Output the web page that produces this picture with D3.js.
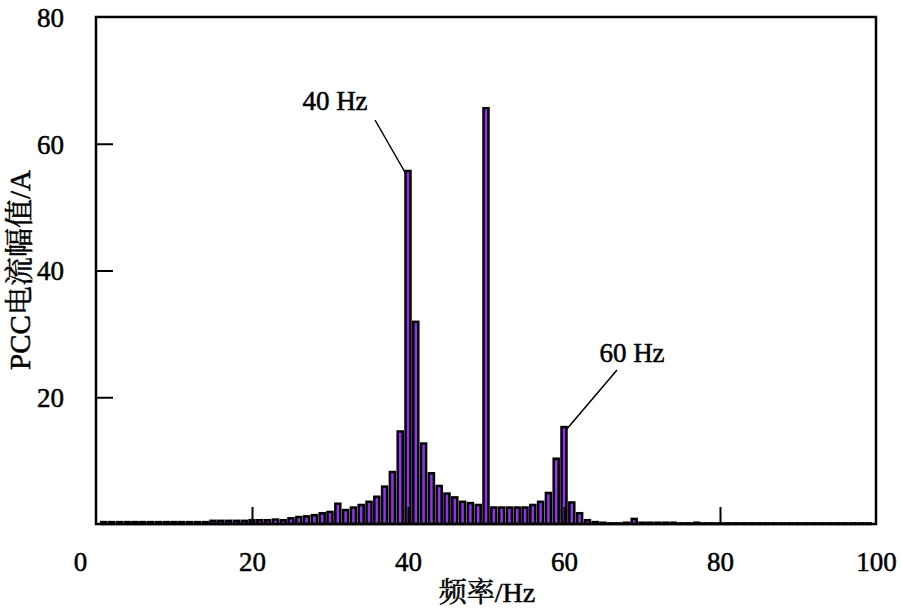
<!DOCTYPE html>
<html><head><meta charset="utf-8">
<script src="https://cdn.jsdelivr.net/npm/d3@7"></script>
<style>body{margin:0;background:#fff} text{stroke:black;stroke-width:0.5px}</style>
</head><body>
<svg id="chart" width="901" height="608"></svg>
<script>
// frequency (Hz) of each bar and its amplitude (A)
var freqs = d3.range(1, 100)
var amps = [
  0.3,0.3,0.3,0.3,0.3,0.3,0.3,0.3,0.3,0.3,   // 1-10
  0.3,0.3,0.3,0.3,0.5,0.5,0.5,0.5,0.5,0.6,   // 11-20
  0.6,0.6,0.7,0.6,0.9,1.1,1.2,1.4,1.7,1.9,   // 21-30
  3.2,2.2,2.6,3.0,3.5,4.3,5.9,8.2,14.6,55.7, // 31-40
  31.9,12.7,8.0,6.0,4.8,4.2,3.5,3.3,3.0,65.6, // 41-50
  2.6,2.6,2.6,2.6,2.6,3.0,3.5,4.9,10.3,15.3, // 51-60
  3.4,1.7,0.6,0.3,0.2,0.1,0.1,0.2,0.8,0.2,   // 61-70
  0.2,0.2,0.2,0.2,0.1,0.1,0.2,0.1,0.1,0.1,   // 71-80
  0.1,0.1,0.1,0.1,0.1,0.1,0.1,0.1,0.1,0.1,   // 81-90
  0.1,0.1,0.1,0.1,0.1,0.1,0.1,0.1,0.1        // 91-99
]
var xTicks = [0, 20, 40, 60, 80, 100]
var yTicks = [20, 40, 60, 80]
var notes = [{f: 40, label: '40 Hz'}, {f: 60, label: '60 Hz'}]

var mLeft = 96, mRight = 876, mTop = 17, mBottom = 524
var font = '"Liberation Serif", "Times New Roman", "Noto Serif CJK SC", "Noto Sans CJK SC", serif'

var svg = d3.select('#chart')
var x = d3.scaleLinear().domain([0, 100]).range([mLeft, mRight])
var y = d3.scaleLinear().domain([0, 80]).range([mBottom, mTop])

// bars
svg.selectAll('rect.bar')
  .data(freqs)
  .enter()
  .append('rect')
  .attr('x', function (d) { return x(d) - 2.5 })
  .attr('width', 5)
  .attr('y', function (d, i) { return y(amps[i]) })
  .attr('height', function (d, i) { return mBottom - y(amps[i]) })
  .attr('fill', '#9430f0')
  .attr('stroke', 'black')
  .attr('stroke-width', 2.5)

// frame
svg.append('rect')
  .attr('x', mLeft).attr('y', mTop)
  .attr('width', mRight - mLeft).attr('height', mBottom - mTop)
  .attr('fill', 'none').attr('stroke', 'black').attr('stroke-width', 2.5)

// inward ticks
var xAxis = d3.axisBottom(x).tickValues(xTicks).tickSizeInner(-17).tickSizeOuter(0).tickPadding(28)
var gx = svg.append('g').attr('transform', 'translate(0,' + mBottom + ')').call(xAxis)
var yAxis = d3.axisLeft(y).tickValues(yTicks).tickSizeInner(-17).tickSizeOuter(0).tickPadding(32)
var gy = svg.append('g').attr('transform', 'translate(' + mLeft + ',0)').call(yAxis)
;[gx, gy].forEach(function (g) {
  g.select('.domain').remove()
  g.selectAll('line').attr('stroke', 'black').attr('stroke-width', 2)
  g.selectAll('text').attr('font-family', font).attr('font-size', 27).attr('fill', 'black')
})
gx.selectAll('.tick').filter(function (d) { return d === 0 || d === 100 }).select('line').remove()
gx.selectAll('.tick').filter(function (d) { return d === 0 }).select('text').attr('dx', -16)
gy.selectAll('.tick').filter(function (d) { return d === 80 }).select('line').remove()
gy.selectAll('text').attr('dy', '0.35em')

// axis labels
svg.append('text')
  .attr('x', 487).attr('y', 602)
  .attr('text-anchor', 'middle')
  .attr('font-family', font).attr('font-size', 28)
  .text('频率/Hz')
svg.append('text')
  .attr('transform', 'translate(30,270) rotate(-90)')
  .attr('text-anchor', 'middle')
  .attr('font-family', font).attr('font-size', 29)
  .text('PCC电流幅值/A')

// annotations
var labelPos = {40: [335, 110, 375, 120], 60: [632, 362, 617, 370]}
notes.forEach(function (n, k) {
  var p = labelPos[n.f]
  var i = freqs.indexOf(n.f)
  svg.append('text')
    .attr('x', p[0]).attr('y', p[1])
    .attr('text-anchor', 'middle')
    .attr('font-family', font).attr('font-size', 27)
    .text(n.label)
  svg.append('line')
    .attr('x1', p[2]).attr('y1', p[3])
    .attr('x2', x(n.f) - (k === 0 ? 2 : -2)).attr('y2', y(amps[i]) + 3)
    .attr('stroke', 'black').attr('stroke-width', 1.5)
})
</script>
</body></html>
